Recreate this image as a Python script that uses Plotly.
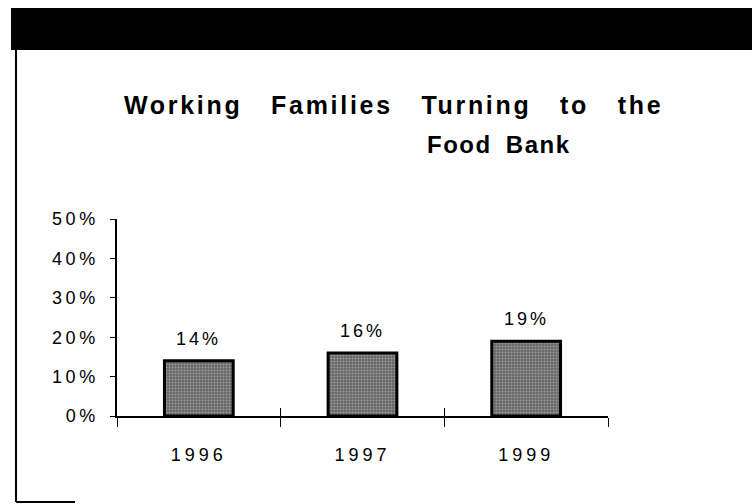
import plotly.graph_objects as go

# ---- data ----
years = ["1996", "1997", "1999"]
share_pct = [14, 16, 19]
y_ticks = [0, 10, 20, 30, 40, 50]
y_tick_labels = [f"{v}%" for v in y_ticks]
title_line1 = "Working Families Turning to the"
title_line2 = "Food Bank"

W, H = 752, 504
L, R, T, B = 117, 144, 219, 88
PW, PH = W - L - R, H - T - B


def px(x):
    return (x - L) / PW


def py(y):
    return (H - B - y) / PH


FONT = "Liberation Sans, Arial, Helvetica, sans-serif"


def sp(t, ls=3.5, ws=0):
    st = f"letter-spacing:{ls}px"
    if ws:
        st += f";word-spacing:{ws}px"
    return f"<span style='{st}'>{t}</span>"


fig = go.Figure()
fig.add_trace(go.Bar(
    x=years, y=share_pct, width=0.42,
    marker=dict(color="#666666",
                line=dict(color="black", width=3),
                pattern=dict(shape=".", fgcolor="#d4d4d4", bgcolor="#666666",
                             size=3, solidity=0.35)),
    hoverinfo="skip", showlegend=False,
))
fig.add_trace(go.Scatter(
    x=years, y=share_pct, xaxis="x2", mode="markers",
    marker=dict(opacity=0), hoverinfo="skip", showlegend=False,
))

for i, v in enumerate(share_pct):
    fig.add_annotation(x=i, y=v, text=sp(f"{v}%", 3), showarrow=False,
                       yanchor="middle", yshift=22,
                       font=dict(family=FONT, size=18, color="black"))

fig.add_annotation(xref="paper", yref="paper", x=px(393), y=py(105),
                   text=sp(title_line1, 2.7, 19), showarrow=False,
                   xanchor="center", yanchor="middle",
                   font=dict(family=FONT, size=25, color="black", weight="bold"))
fig.add_annotation(xref="paper", yref="paper", x=px(499), y=py(144),
                   text=sp(title_line2, 1.5, 6), showarrow=False,
                   xanchor="center", yanchor="middle",
                   font=dict(family=FONT, size=24, color="black", weight="bold"))

shapes = [
    dict(type="rect", xref="paper", yref="paper", x0=px(11), x1=px(760),
         y0=py(50), y1=py(8), fillcolor="black", line=dict(width=0), layer="above"),
    dict(type="line", xref="paper", yref="paper", x0=px(16), x1=px(16),
         y0=py(50), y1=py(502), line=dict(color="black", width=2)),
    dict(type="line", xref="paper", yref="paper", x0=px(16), x1=px(75),
         y0=py(502), y1=py(502), line=dict(color="black", width=2)),
]

fig.update_layout(
    width=W, height=H,
    margin=dict(l=L, r=R, t=T, b=B, pad=0),
    paper_bgcolor="white", plot_bgcolor="white",
    font=dict(family=FONT, size=18, color="black"),
    shapes=shapes,
    xaxis=dict(type="category", categoryorder="array", categoryarray=years,
               range=[-0.5, 2.5], showline=True, linecolor="black", linewidth=1.5,
               ticks="outside", tickson="boundaries", ticklen=9, tickwidth=1,
               tickcolor="black", showgrid=False, zeroline=False,
               tickvals=years, ticktext=[sp(y, 4) for y in years],
               ticklabelstandoff=22,
               tickfont=dict(family=FONT, size=18, color="black")),
    xaxis2=dict(type="category", overlaying="x", matches="x", anchor="y",
                ticks="inside", tickson="boundaries", ticklen=8, tickwidth=1,
                tickcolor="black", showticklabels=False, showline=False,
                showgrid=False, zeroline=False),
    yaxis=dict(range=[0, 50], showline=True, linecolor="black", linewidth=1.5,
               ticks="outside", ticklen=5, tickwidth=1, tickcolor="black",
               tickvals=y_ticks, ticktext=[sp(t, 3.5) for t in y_tick_labels],
               ticklabelstandoff=8, showgrid=False, zeroline=False,
               tickfont=dict(family=FONT, size=18, color="black")),
)

fig.write_html("out.html", config={"displayModeBar": False},
               post_script="document.body.style.margin='0';document.body.style.overflow='hidden';")
